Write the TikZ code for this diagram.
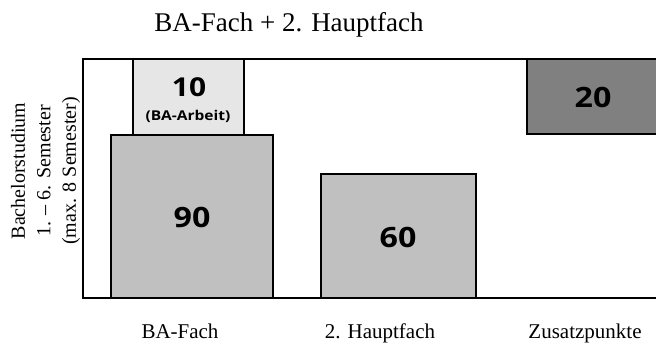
\documentclass[tikz,border=0pt]{standalone}
\usepackage{fontspec}
\setmainfont{Liberation Serif}
\newfontfamily\numfont[FakeStretch=1.15]{Open Sans}
\definecolor{lightbox}{HTML}{E6E6E6}
\definecolor{midbox}{HTML}{C0C0C0}
\definecolor{darkbox}{HTML}{808080}
\begin{document}
\begin{tikzpicture}[x=1pt,y=-1pt,
  bar/.style={draw=black,line width=2pt,anchor=north west,inner sep=0pt,outer sep=0pt},
  bignum/.style={font=\numfont\bfseries\fontsize{28}{30}\selectfont,inner sep=0pt},
  midnum/.style={font=\numfont\bfseries\fontsize{26}{28}\selectfont,inner sep=0pt},
  smallnum/.style={font=\numfont\bfseries\fontsize{13.5}{15}\selectfont,inner sep=0pt},
  axislabel/.style={font=\fontsize{21}{25}\selectfont,inner sep=0pt,anchor=base},
  sidelabel/.style={font=\fontsize{20}{25.5}\selectfont,inner sep=0pt},
  titlelabel/.style={font=\fontsize{27}{30}\selectfont,inner sep=0pt,anchor=base}]
\useasboundingbox (0,0) rectangle (656,345);
% frame
\coordinate (ftr) at (665,59);
\coordinate (ftl) at (83,59);
\coordinate (fbl) at (83,298);
\coordinate (fbr) at (665,298);
\draw[line width=2pt] (ftr) -- (ftl) -- (fbl) -- (fbr);
% bars
\node[bar,fill=lightbox,minimum width=111pt,minimum height=76pt] (b10) at (133,59) {};
\node[bar,fill=midbox,minimum width=162pt,minimum height=163pt] (b90) at (111,135) {};
\node[bar,fill=midbox,minimum width=155pt,minimum height=124pt] (b60) at (321,174) {};
\node[bar,fill=darkbox,minimum width=140pt,minimum height=75pt] (b20) at (527,59) {};
% numbers
\node[midnum] (n10) at (189,87) {10};
\node[smallnum] (n10s) at (188,116) {(BA-Arbeit)};
\node[bignum] (n90) at (192,217) {90};
\node[bignum] (n60) at (398,237) {60};
\node[bignum] (n20) at (593,97) {20};
% labels
\node[titlelabel] (title) at (289,32) {BA-Fach + 2. Hauptfach};
\node[axislabel] (l1) at (180,338) {BA-Fach};
\node[axislabel] (l2) at (380,338) {2. Hauptfach};
\node[axislabel] (l3) at (585,338) {Zusatzpunkte};
\node[sidelabel,rotate=90,align=center] (ylab) at (45.5,171) {Bachelorstudium\\1. -- 6. Semester\\(max. 8 Semester)};
\end{tikzpicture}
\end{document}
